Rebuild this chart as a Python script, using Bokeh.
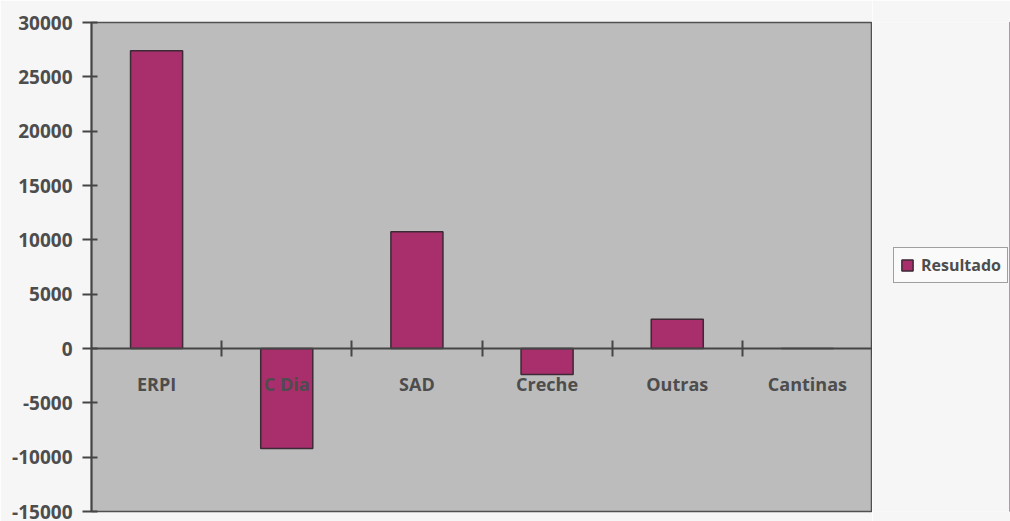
from bokeh.plotting import figure
from bokeh.layouts import row
from bokeh.models import (Range1d, LinearAxis, FixedTicker, Legend, LegendItem,
                          ColumnDataSource)
from bokeh.embed import file_html
from bokeh.resources import INLINE

categories = ["ERPI", "C Dia", "SAD", "Creche", "Outras", "Cantinas"]
resultado = [27400, -9200, 10750, -2400, 2700, 0]
series_name = "Resultado"
y_ticks = [-15000, -10000, -5000, 0, 5000, 10000, 15000, 20000, 25000, 30000]

n = len(categories)
centers = [i + 0.5 for i in range(n)]
boundaries = [i + 1 for i in range(n)]

FONT = "Open Sans"
TXT = "#4d4d4d"
AXC = "#454545"
PAGE = "#f6f6f6"
BAR_FILL = "#a82e6c"
BAR_LINE = "#3c2a34"

p = figure(width=872, height=521, output_backend="svg", toolbar_location=None,
           x_range=Range1d(0, n), y_range=Range1d(y_ticks[0], y_ticks[-1]),
           x_axis_type=None, y_axis_type=None,
           min_border_left=91, min_border_right=0, min_border_top=22,
           min_border_bottom=10)
p.background_fill_color = "#bcbcbc"
p.border_fill_color = PAGE
p.outline_line_color = "#505050"
p.outline_line_width = 1.5
p.xgrid.visible = False
p.ygrid.visible = False

src = ColumnDataSource(dict(x=centers, top=resultado, cat=categories))
bars = p.vbar(x="x", top="top", bottom=0, width=0.4, source=src,
              fill_color=BAR_FILL, line_color=BAR_LINE, line_width=1.5)

# y axis
yax = LinearAxis(ticker=FixedTicker(ticks=y_ticks),
                 major_label_overrides={v: str(v) for v in y_ticks})
yax.major_tick_in = 6
yax.major_tick_out = 9
yax.minor_tick_line_color = None
yax.axis_line_color = AXC
yax.axis_line_width = 2
yax.major_tick_line_color = AXC
yax.major_tick_line_width = 2
yax.major_label_text_font = FONT
yax.major_label_text_font_style = "bold"
yax.major_label_text_font_size = "19px"
yax.major_label_text_color = TXT
yax.major_label_standoff = 10
p.add_layout(yax, "left")

# x axis line with boundary ticks at zero
xtick = LinearAxis(ticker=FixedTicker(ticks=boundaries), fixed_location=0)
xtick.major_tick_in = 8
xtick.major_tick_out = 8
xtick.minor_tick_line_color = None
xtick.axis_line_color = AXC
xtick.axis_line_width = 2
xtick.major_tick_line_color = AXC
xtick.major_tick_line_width = 2
xtick.major_label_text_color = None
xtick.major_label_text_font_size = "1px"
p.add_layout(xtick, "below")

# category labels
xlab = LinearAxis(ticker=FixedTicker(ticks=centers), fixed_location=0,
                  major_label_overrides={c: lab for c, lab in zip(centers, categories)})
xlab.axis_line_color = None
xlab.major_tick_line_color = None
xlab.minor_tick_line_color = None
xlab.major_tick_in = 0
xlab.major_tick_out = 0
xlab.major_label_standoff = 23
xlab.major_label_text_font = FONT
xlab.major_label_text_font_style = "bold"
xlab.major_label_text_font_size = "18px"
xlab.major_label_text_color = TXT
p.add_layout(xlab, "below")

# legend panel to the right (same series; its bars fall outside this panel's range)
q = figure(width=138, height=521, output_backend="svg", toolbar_location=None,
           x_axis_type=None, y_axis_type=None,
           x_range=Range1d(-3, -2), y_range=Range1d(-3, -2),
           min_border_left=0, min_border_right=0, min_border_top=0,
           min_border_bottom=0)
q.background_fill_color = PAGE
q.border_fill_color = PAGE
q.outline_line_color = None
q.xgrid.visible = False
q.ygrid.visible = False
key = q.vbar(x="x", top="top", bottom=0, width=0.4, source=src,
             fill_color=BAR_FILL, line_color=BAR_LINE, line_width=1.5)

legend = Legend(items=[LegendItem(label=series_name, renderers=[key])],
                location=(21, 228))
legend.border_line_color = "#444444"
legend.border_line_width = 1.5
legend.background_fill_color = "#fafafa"
legend.background_fill_alpha = 1
legend.padding = 6
legend.margin = 0
legend.glyph_width = 14
legend.glyph_height = 14
legend.label_standoff = 7
legend.label_height = 22
legend.label_text_font = FONT
legend.label_text_font_style = "bold"
legend.label_text_font_size = "16px"
legend.label_text_color = TXT
q.add_layout(legend, "center")

layout = row(p, q, spacing=0)
open("out.html", "w").write(file_html(layout, INLINE))
